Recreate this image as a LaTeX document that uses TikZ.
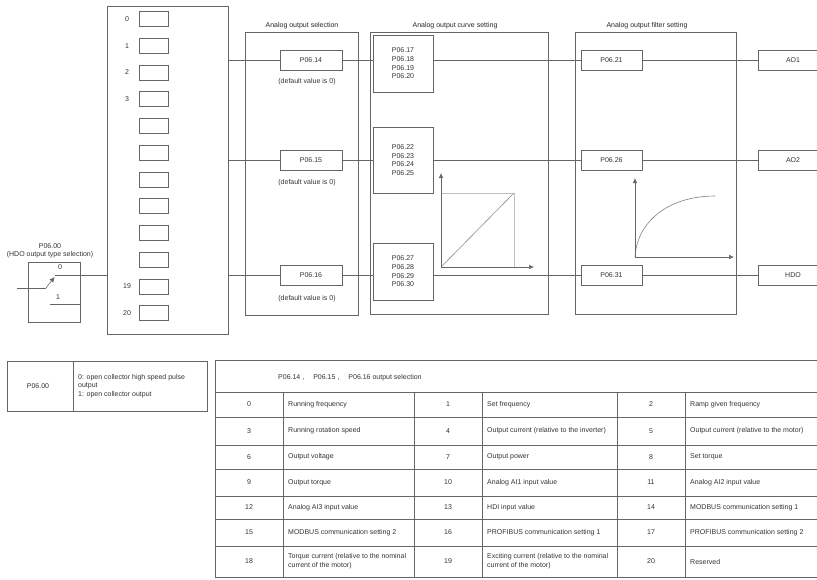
\documentclass[tikz,border=0pt]{standalone}
\usepackage{fontspec}
\setmainfont{Liberation Sans}
\usetikzlibrary{arrows.meta}
\newcommand\mybox[6]{\node[bx,txt,align=center,minimum width={(#4)-(#2)},minimum height={(#5)-(#3)}] (#1) at ({((#2)+(#4))/2},{((#3)+(#5))/2}) {#6};}
\begin{document}
\begin{tikzpicture}[x=1pt,y=-1pt,
  ln/.style={draw=black!60, line width=0.6pt},
  lite/.style={draw=black!25, line width=0.5pt},
  bx/.style={draw=black!60, line width=0.6pt, rectangle, inner sep=0pt, outer sep=0pt},
  txt/.style={font=\fontsize{7}{8.7}\selectfont, text=black!80, inner sep=0pt},
  ttl/.style={font=\fontsize{7}{8}\selectfont, text=black!85, inner sep=0pt},
  arr/.style={ln, -{Latex[length=5pt,width=4.5pt]}},
  lt/.style={txt, anchor=west, align=left}]
\useasboundingbox (0,0) rectangle (817,579);

% ---- selector column
\mybox{sel}{107}{6}{228}{334}{}
\foreach \i/\lab in {0/0,1/1,2/2,3/3,4/,5/,6/,7/,8/,9/,10/19,11/20}{
  \pgfmathsetmacro\yy{19+26.73*\i}
  \mybox{sb\i}{139}{\yy-7.5}{168}{\yy+7.5}{}
  \node[txt] (sl\i) at (127,\yy) {\lab};
}

% ---- analog output selection
\mybox{asel}{245}{32}{358}{315}{}
\node[ttl] (tsel) at (302,26) {Analog output selection};
\mybox{s14}{280}{50}{342}{70}{P06.14}
\mybox{s15}{280}{150}{342}{170}{P06.15}
\mybox{s16}{280}{265}{342}{285}{P06.16}
\node[txt] (d14) at (307,82) {(default value is 0)};
\node[txt] (d15) at (307,183) {(default value is 0)};
\node[txt] (d16) at (307,299) {(default value is 0)};

% ---- curve setting
\mybox{crv}{370}{32}{548}{314}{}
\node[ttl] (tcrv) at (455,26) {Analog output curve setting};
\mybox{c1}{373}{35}{433}{92}{P06.17\\P06.18\\P06.19\\P06.20}
\mybox{c2}{373}{127}{433}{193}{P06.22\\P06.23\\P06.24\\P06.25}
\mybox{c3}{373}{243}{433}{300}{P06.27\\P06.28\\P06.29\\P06.30}
\coordinate (g1o) at (441,267);
\coordinate (g1y) at (441,173);
\coordinate (g1x) at (534,267);
\coordinate (g1c) at (514,193);
\draw[lite] (g1o) rectangle (g1c);
\draw[ln, draw=black!45] (g1o) -- (g1c);
\draw[arr] (g1o) -- (g1y);
\draw[arr] (g1o) -- (g1x);

% ---- filter setting
\mybox{fil}{575}{32}{736}{314}{}
\node[ttl] (tfil) at (647,26) {Analog output filter setting};
\mybox{f1}{581}{50}{642}{70}{P06.21}
\mybox{f2}{581}{150}{642}{170}{P06.26}
\mybox{f3}{581}{265}{642}{285}{P06.31}
\coordinate (g2o) at (635,257);
\coordinate (g2y) at (635,178);
\coordinate (g2x) at (734,257);
\coordinate (g2e) at (715,196);
\draw[ln, draw=black!50] (g2o) .. controls (637,222) and (668,196) .. (g2e);
\draw[arr] (g2o) -- (g2y);
\draw[arr] (g2o) -- (g2x);

% ---- outputs
\mybox{o1}{758}{50}{828}{70}{AO1}
\mybox{o2}{758}{150}{828}{170}{AO2}
\mybox{o3}{758}{265}{828}{285}{HDO}

% ---- connectors
\foreach \a/\b/\c/\d in {s14/c1/f1/o1, s15/c2/f2/o2, s16/c3/f3/o3}{
  \draw[ln] (sel.east |- \a.west) -- (\a.west);
  \draw[ln] (\a.east) -- (\b.west |- \a.east);
  \draw[ln] (\b.east |- \c.west) -- (\c.west);
  \draw[ln] (\c.east) -- (\d.west);
}

% ---- HDO switch P06.00
\node[txt] (swt1) at (50,246) {P06.00};
\node[txt] (swt2) at (50,255) {(HDO output type selection)};
\mybox{sw}{28}{262}{80}{322}{}
\coordinate (swin) at (17,288);
\coordinate (swp) at (46,288);
\coordinate (swa) at (54.5,277);
\coordinate (sw0) at (55,275);
\coordinate (sw1a) at (50,304);
\node[txt] (sw0l) at (60,267) {0};
\node[txt] (sw1l) at (58,297) {1};
\draw[ln] (swin) -- (swp);
\draw[ln, -{Latex[length=5pt,width=5pt]}] (swp) -- (swa);
\draw[ln] (sw0) -- (sw0 -| sel.west);
\draw[ln] (sw1a) -- (sw1a -| sw.east);

% ---- P06.00 table
\mybox{pt}{7}{361}{207}{411}{}
\draw[ln] (73,361) -- (73,411);
\node[txt] (pt1) at (38,386) {P06.00};
\node[lt] (pt2) at (78,386) {0: open collector high speed pulse\\output\\1: open collector output};

% ---- big table
\draw[ln] (817,360) -- (215,360) -- (215,577) -- (817,577);
\foreach \yy in {392,417,445,469,496,519,546}{
  \draw[ln] (215,\yy) -- (817,\yy);
}
\foreach \xx in {283,414,482,617,685}{
  \draw[ln] (\xx,392) -- (\xx,577);
}
\node[txt, anchor=west] (hdr) at (278,378) {P06.14\hspace{2pt},\hspace{9pt}P06.15\hspace{2pt},\hspace{9pt}P06.16 output selection};
\foreach \yy/\na/\ta/\nb/\tb/\nc/\tc [count=\r] in {
  404.5/0/Running frequency/1/Set frequency/2/Ramp given frequency,
  431/3/Running rotation speed/4/Output current (relative to the inverter)/5/Output current (relative to the motor),
  457/6/Output voltage/7/Output power/8/Set torque,
  482.5/9/Output torque/10/Analog AI1 input value/11/Analog AI2 input value,
  507.5/12/Analog AI3 input value/13/HDI input value/14/MODBUS communication setting 1,
  532.5/15/MODBUS communication setting 2/16/PROFIBUS communication setting 1/17/PROFIBUS communication setting 2,
  561.5/18/{Torque current (relative to the nominal\\current of the motor)}/19/{Exciting current (relative to the nominal\\current of the motor)}/20/Reserved}{
  \node[txt] (na\r) at (249,\yy) {\na};
  \node[lt] (ta\r) at (288,\yy) {\ta};
  \node[txt] (nb\r) at (448,\yy) {\nb};
  \node[lt] (tb\r) at (487,\yy) {\tb};
  \node[txt] (nc\r) at (651,\yy) {\nc};
  \node[lt] (tc\r) at (690,\yy) {\tc};
}
\end{tikzpicture}
\end{document}
